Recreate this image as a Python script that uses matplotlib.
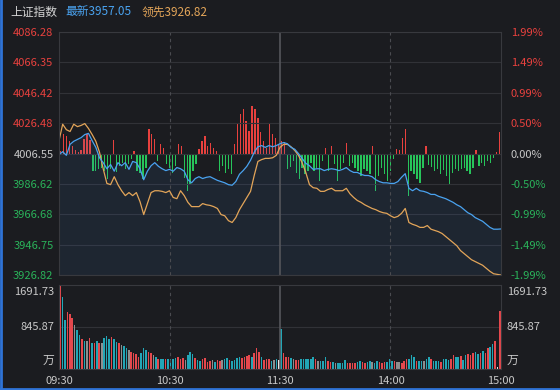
import matplotlib
matplotlib.use("Agg")
import matplotlib.pyplot as plt
import numpy as np
from matplotlib.lines import Line2D

plt.rcParams['font.family'] = ['Noto Sans CJK SC', 'DejaVu Sans']

prev_close = 4006.55
last_price = 3957.05
lead_price = 3926.82

price_ticks = [4086.28, 4066.35, 4046.42, 4026.48, 4006.55, 3986.62, 3966.68, 3946.75, 3926.82]
pct_labels = ["1.99%", "1.49%", "0.99%", "0.50%", "0.00%", "-0.50%", "-0.99%", "-1.49%", "-1.99%"]
vol_max = 1691.73
vol_mid = 845.87
time_labels = ["09:30", "10:30", "11:30", "14:00", "15:00"]

# percent change vs previous close, one value every 2 minutes
latest_pct = [
    -0.02, 0.03, -0.03, 0.15, 0.20, 0.23, 0.26, 0.31, 0.33, 0.21,
    0.10, -0.07, -0.15, -0.25, -0.18, -0.29, -0.15, -0.20, -0.15, -0.26,
    -0.13, -0.15, -0.25, -0.43, -0.29, -0.20, -0.15, -0.21, -0.25, -0.28,
    -0.26, -0.29, -0.23, -0.25, -0.29, -0.43, -0.48, -0.41, -0.38, -0.41,
    -0.39, -0.38, -0.41, -0.44, -0.46, -0.48, -0.51, -0.52, -0.46, -0.34,
    -0.28, -0.21, -0.11, 0.02, 0.11, 0.13, 0.10, 0.13, 0.11, 0.13,
    0.16, 0.18, 0.16, 0.10, 0.07, 0.00, -0.08, -0.16, -0.20, -0.26,
    -0.25, -0.25, -0.28, -0.26, -0.25, -0.26, -0.28, -0.26, -0.23, -0.28,
    -0.31, -0.31, -0.34, -0.36, -0.36, -0.38, -0.43, -0.46, -0.48, -0.48,
    -0.49, -0.49, -0.46, -0.39, -0.33, -0.57, -0.61, -0.57, -0.61, -0.62,
    -0.64, -0.67, -0.67, -0.70, -0.72, -0.74, -0.77, -0.80, -0.84, -0.87,
    -0.92, -0.97, -1.00, -1.05, -1.08, -1.11, -1.16, -1.21, -1.24, -1.24,
    -1.236,
]
lead_pct = [
    0.21, 0.48, 0.39, 0.36, 0.48, 0.44, 0.46, 0.49, 0.41, 0.31,
    0.20, 0.02, -0.25, -0.49, -0.51, -0.38, -0.51, -0.61, -0.69, -0.64,
    -0.69, -0.64, -0.79, -1.00, -0.82, -0.64, -0.61, -0.61, -0.62, -0.64,
    -0.61, -0.72, -0.74, -0.61, -0.69, -0.80, -0.87, -0.87, -0.87, -0.82,
    -0.84, -0.85, -0.87, -0.90, -1.00, -1.02, -1.10, -1.13, -1.05, -0.92,
    -0.82, -0.72, -0.62, -0.36, -0.13, -0.10, -0.08, -0.08, -0.07, -0.03,
    0.10, 0.15, 0.15, 0.11, 0.05, -0.03, -0.15, -0.31, -0.51, -0.56,
    -0.57, -0.62, -0.62, -0.59, -0.57, -0.61, -0.61, -0.61, -0.57, -0.66,
    -0.72, -0.77, -0.80, -0.84, -0.87, -0.90, -0.92, -0.95, -0.97, -0.98,
    -1.02, -1.05, -1.03, -0.98, -0.90, -1.13, -1.16, -1.18, -1.21, -1.21,
    -1.18, -1.24, -1.26, -1.28, -1.31, -1.36, -1.41, -1.46, -1.51, -1.59,
    -1.64, -1.69, -1.74, -1.77, -1.80, -1.83, -1.88, -1.93, -1.97, -1.98,
    -1.99,
]

# red / green strength bars around the zero line
signal = [
    3, 20, 18, 13, 8, 4, 2, 4, 15, 20,
    14, -17, -17, -15, -14, -17, -25, -15, 14, -18,
    -12, -9, -15, -10, -5, 3, -17, -19, -25, -14,
    25, 20, 15, -7, 10, 6, -10, -14, -19, -12,
    10, 8, -24, -37, -30, -17, -10, 5, 13, 18,
    8, 11, 6, 3, -17, -12, -19, -15, -20, 10,
    30, 40, 45, 33, 23, 48, 45, 36, 22, 13,
    6, 30, 20, 16, 10, 13, 12, -15, -13, -7,
    -19, -25, -14, -20, -17, -9, -17, -14, -27, -7,
    6, -17, 8, -10, -27, -15, -9, 11, -12, -9,
    -14, -17, -22, -15, -17, -20, 8, -37, -22, -14,
    -20, -27, -17, -5, 5, 4, 16, 25, -42, -17,
    -20, -25, -29, -14, 8, -11, -13, -17, -15, -20,
    -16, -22, -30, -19, -15, -17, -15, -14, -17, -20,
    -14, 4, -12, -9, -12, -7, -9, -4, 2, 22,
]

# volume (万) and bar colour code: r up, c down, g flat, w auction
volume = [
    1692, 1457, 990, 1140, 1105, 1020, 880, 785, 685, 597,
    564, 564, 617, 530, 517, 564, 517, 530, 617, 664,
    597, 638, 597, 540, 517, 483, 463, 416, 383, 349,
    330, 302, 248, 329, 416, 383, 349, 315, 282, 235,
    195, 195, 195, 201, 195, 195, 201, 215, 235, 201,
    215, 181, 282, 336, 302, 215, 181, 168, 195, 215,
    148, 168, 181, 148, 181, 168, 181, 195, 215, 181,
    168, 181, 215, 235, 215, 235, 262, 282, 248, 329,
    416, 349, 235, 181, 195, 195, 168, 181, 195, 181,
    805, 329, 248, 248, 215, 195, 181, 181, 201, 201,
    195, 201, 195, 235, 201, 168, 168, 168, 235, 168,
    148, 148, 128, 128, 128, 128, 181, 128, 128, 128,
    128, 148, 168, 148, 128, 148, 168, 148, 128, 168,
    148, 128, 148, 148, 201, 168, 168, 148, 148, 128,
    168, 201, 201, 282, 235, 168, 168, 168, 168, 201,
    248, 201, 168, 168, 168, 148, 201, 201, 181, 201,
    282, 235, 235, 262, 181, 282, 302, 282, 329, 349,
    302, 329, 363, 329, 416, 450, 497, 564, 34, 1168,
]
vol_side = ("rccrrrgccr" "cgrcrcrgcc" "crccrgccgr" "rrrcccrrgc"
            "rccrccccrr" "rgcccrccrr" "rrgcrrgccr" "ccccrrrrcr"
            "rrcrrrcgcw" "crrrcgrrcc" "ccccrgcccr" "rcgccccrrr"
            "rccrrccgcc" "rrrcccrggr" "rrcccrccgc" "crcccrcccr"
            "rccrccrrrc" "crcrrccrwr")

bg = '#1b1c20'
grid = '#313237'
red = '#e8413e'
green = '#2ab35a'
grey = '#c8c8c8'
side_colors = {'r': '#e5484d', 'c': '#22a6b6', 'g': '#8e8e8e', 'w': '#e6e6e6'}

minutes = np.arange(len(latest_pct)) * 2
latest = prev_close * (1 + np.array(latest_pct) / 100)
lead = prev_close * (1 + np.array(lead_pct) / 100)
sig_t = np.linspace(0.8, 239.2, len(signal))
vol_t = np.linspace(0.5, 239.5, len(volume))

fig = plt.figure(figsize=(5.6, 3.9), dpi=100, facecolor=bg)
main_rect = [59/560, 115/390, 442/560, 243/390]
vol_rect = [59/560, 21/390, 442/560, 84/390]

# bars go underneath the price lines
ax_sig = fig.add_axes(main_rect, label='sig')
ax_sig.set_xlim(0, 240)
ax_sig.set_ylim(-121.5, 121.5)
ax_sig.bar(sig_t, signal, width=0.7, color=[red if v > 0 else '#27c45a' for v in signal])
ax_sig.axis('off')

ax = fig.add_axes(main_rect, label='price', facecolor='none')
ax.set_xlim(0, 240)
ax.set_ylim(price_ticks[-1], price_ticks[0])
for p in price_ticks:
    ax.axhline(p, color=grid, lw=0.8, zorder=0)
ax.axvline(60, color='#4a4b50', lw=0.8, ls=(0, (3, 3)))
ax.axvline(180, color='#4a4b50', lw=0.8, ls=(0, (3, 3)))
ax.axvline(120, color='#55565b', lw=1.2)
ax.fill_between(minutes, latest, price_ticks[-1], color='#3f7fd0', alpha=0.10, lw=0)
ax.plot(minutes, lead, color='#e3a559', lw=0.9)
ax.plot(minutes, latest, color='#4aa3f0', lw=0.9)
for s in ax.spines.values():
    s.set_color('#38393e')
ax.set_xticks([])
label_colors = [red] * 4 + [grey] + [green] * 4
ax.set_yticks(price_ticks, [f"{p:.2f}" for p in price_ticks], fontsize=8)
ax.tick_params(axis='y', length=0, pad=4)
for lab, c in zip(ax.get_yticklabels(), label_colors):
    lab.set_color(c)

ax_r = ax.twinx()
ax_r.set_ylim(ax.get_ylim())
ax_r.set_yticks(price_ticks, pct_labels, fontsize=8)
ax_r.tick_params(axis='y', length=0, pad=7)
for lab, c in zip(ax_r.get_yticklabels(), label_colors):
    lab.set_color(c)
for s in ax_r.spines.values():
    s.set_visible(False)

# volume panel
axv = fig.add_axes(vol_rect, facecolor='none')
axv.set_xlim(0, 240)
axv.set_ylim(0, vol_max)
axv.axhline(vol_mid, color=grid, lw=0.8, zorder=0)
axv.axvline(60, color='#4a4b50', lw=0.8, ls=(0, (3, 3)))
axv.axvline(180, color='#4a4b50', lw=0.8, ls=(0, (3, 3)))
axv.axvline(120, color='#55565b', lw=1.2)
axv.bar(vol_t, volume, width=0.85, color=[side_colors[c] for c in vol_side])
for s in axv.spines.values():
    s.set_color('#38393e')
axv.set_yticks([])
axv.set_xticks([0, 60, 120, 180, 240], time_labels, fontsize=8, color=grey)
axv.tick_params(axis='x', length=0, pad=5)
for x, ha in [(-5/442, 'right'), (1 + 6/442, 'left')]:
    axv.text(x, 0.98, f"{vol_max:.2f}", transform=axv.transAxes, ha=ha, va='top', fontsize=8, color=grey)
    axv.text(x, 0.5, f"{vol_mid:.2f}", transform=axv.transAxes, ha=ha, va='center', fontsize=8, color=grey)
    axv.text(x, 0.02, "万", transform=axv.transAxes, ha=ha, va='bottom', fontsize=8.5, color=grey)

# header
fig.text(10/560, 1 - 12/390, "上证指数", fontsize=8.5, color='#d4d4d4', va='center')
fig.text(65/560, 1 - 12/390, f"最新{last_price:.2f}", fontsize=8.5, color='#4aa3f0', va='center')
fig.text(142/560, 1 - 12/390, f"领先{lead_price:.2f}", fontsize=8.5, color='#e3a559', va='center')

# window border
fig.add_artist(Line2D([0.0015, 0.0015], [0, 1], color='#2f73d6', lw=2))
fig.add_artist(Line2D([0, 1], [0.003, 0.003], color='#2f73d6', lw=2))

fig.savefig("out.png", facecolor=bg)
